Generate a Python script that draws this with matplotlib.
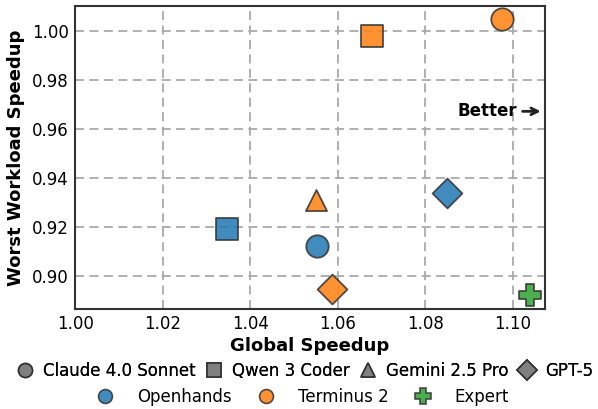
import matplotlib
matplotlib.use("Agg")
import matplotlib.pyplot as plt
from matplotlib.lines import Line2D

models = ["Claude 4.0 Sonnet", "Qwen 3 Coder", "Gemini 2.5 Pro", "GPT-5"]
model_markers = ["o", "s", "^", "D"]
agents = ["Openhands", "Terminus 2"]
agent_colors = ["#1f77b4", "#ff7f0e"]

# global speedup, worst workload speedup per (agent, model)
openhands_x = [1.0553, 1.0347, None, 1.0849]
openhands_y = [0.9122, 0.9192, None, 0.9339]
terminus_x = [1.0975, 1.0678, 1.0550, 1.0587]
terminus_y = [1.0049, 0.9980, 0.9310, 0.8947]
expert_x = [1.1039]
expert_y = [0.8922]

fig = plt.figure(figsize=(5.98, 4.09), dpi=100)
ax = fig.add_axes([0.126, 0.245, 0.785, 0.74])

sizes = {"o": 260, "s": 260, "^": 230, "D": 230}
for xs, ys, col in [(openhands_x, openhands_y, agent_colors[0]), (terminus_x, terminus_y, agent_colors[1])]:
    for x, y, m in zip(xs, ys, model_markers):
        if x is None:
            continue
        ax.scatter(x, y, marker=m, s=sizes[m], color=col, alpha=0.85,
                   edgecolor="#333333", linewidth=1.3, zorder=3)
ax.scatter(expert_x, expert_y, marker="P", s=260, color="#2ca02c", alpha=0.85,
           edgecolor="#333333", linewidth=1.3, zorder=3)

ax.set_xlim(1.0, 1.1073)
ax.set_ylim(0.8865, 1.0102)
ax.set_xticks([1.00, 1.02, 1.04, 1.06, 1.08, 1.10])
ax.set_yticks([0.90, 0.92, 0.94, 0.96, 0.98, 1.00])
ax.set_xticklabels(["1.00", "1.02", "1.04", "1.06", "1.08", "1.10"])
ax.set_yticklabels(["0.90", "0.92", "0.94", "0.96", "0.98", "1.00"])
ax.tick_params(axis="both", length=0, labelsize=12, pad=4.5)
ax.grid(True, linestyle=(0, (5, 3)), color="#aaaaaa", linewidth=1.3, zorder=0)
ax.set_axisbelow(True)
for s in ax.spines.values():
    s.set_color("#333333")
    s.set_linewidth(1.5)
ax.set_xlabel("Global Speedup", fontsize=13, fontweight="bold", labelpad=3)
ax.set_ylabel("Worst Workload Speedup", fontsize=13, fontweight="bold", labelpad=5)

ax.annotate("", xy=(1.1070, 0.9672), xytext=(1.1016, 0.9672),
            arrowprops=dict(arrowstyle="->", color="#222222", lw=2.0, mutation_scale=12))
ax.text(1.1010, 0.9672, "Better", fontsize=12, fontweight="bold",
        ha="right", va="center", color="black")

h1 = [Line2D([], [], marker=m, linestyle="", markersize=10,
             markerfacecolor="#808080", markeredgecolor="#333333", markeredgewidth=1.2)
      for m in model_markers]
leg1 = fig.legend(h1, models, loc="center", bbox_to_anchor=(0.51, 0.093), ncol=4,
                  frameon=False, fontsize=12, handletextpad=0.58, columnspacing=0.6,
                  handlelength=1.0, borderpad=0, borderaxespad=0)
h2 = [Line2D([], [], marker="o", linestyle="", markersize=10, markerfacecolor=c,
             alpha=0.85, markeredgecolor="#333333", markeredgewidth=1.2) for c in agent_colors]
h2.append(Line2D([], [], marker="P", linestyle="", markersize=11, markerfacecolor="#2ca02c",
                 alpha=0.85, markeredgecolor="#333333", markeredgewidth=1.2))
leg2 = fig.legend(h2, agents + ["Expert"], loc="center", bbox_to_anchor=(0.503, 0.029), ncol=3,
                  frameon=False, fontsize=12, handletextpad=1.17, columnspacing=1.29,
                  handlelength=1.5, borderpad=0, borderaxespad=0)
fig.add_artist(leg1)

fig.savefig("out.png", dpi=100)
